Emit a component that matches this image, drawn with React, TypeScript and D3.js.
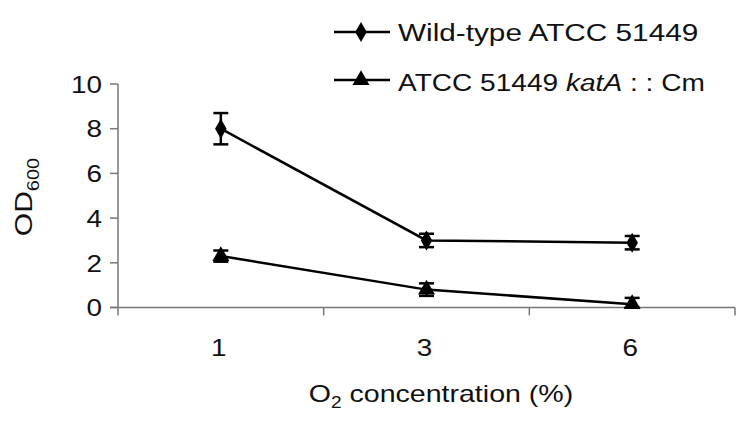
import React from "react";
import * as d3 from "d3";

const categories = ["1", "3", "6"];
const wildType = [8.0, 3.0, 2.9];
const wildTypeErr = [0.7, 0.3, 0.3];
const mutant = [2.3, 0.8, 0.15];
const mutantErr = [0.25, 0.28, 0.28];
const yTicks = [0, 2, 4, 6, 8, 10];

const W = 750;
const H = 425;
const FONT = "'Liberation Sans', Arial, Helvetica, sans-serif";

function T(props: {
  x: number;
  y: number;
  sx: number;
  size: number;
  anchor?: string;
  rotate?: number;
  children: React.ReactNode;
}) {
  const { x, y, sx, size, anchor = "start", rotate = 0, children } = props;
  return (
    <g transform={`translate(${x},${y}) rotate(${rotate}) scale(${sx},1)`}>
      <text x={0} y={0} textAnchor={anchor} fontSize={size} fill="#111">
        {children}
      </text>
    </g>
  );
}

export default function App() {
  const x = d3.scaleBand<string>().domain(categories).range([118, 735]).padding(0);
  const y = d3.scaleLinear().domain([0, 10]).range([307.5, 84]);
  const cx = (c: string) => (x(c) as number) + x.bandwidth() / 2;
  const line = d3
    .line<number>()
    .x((_, i) => cx(categories[i]))
    .y((d) => y(d));
  const axisColor = "#777";
  const boundaries = [...categories.map((c) => x(c) as number), 735];
  const diamond = d3.symbol(d3.symbolDiamond, 115)();
  const triangle = d3.symbol(d3.symbolTriangle, 125)();

  const errBars = (vals: number[], errs: number[]) =>
    vals.map((v, i) => {
      const px = cx(categories[i]);
      const top = y(v + errs[i]);
      const bot = y(Math.max(0, v - errs[i]));
      return (
        <g key={i} stroke="#000" strokeWidth={2.5}>
          <line x1={px} x2={px} y1={top} y2={bot} />
          <line x1={px - 7.5} x2={px + 7.5} y1={top} y2={top} />
          <line x1={px - 7.5} x2={px + 7.5} y1={bot} y2={bot} />
        </g>
      );
    });

  return (
    <svg
      width={W}
      height={H}
      style={{ position: "absolute", left: 0, top: 0, background: "#fff" }}
      fontFamily={FONT}
    >
      <rect width={W} height={H} fill="#fff" />
      {/* y axis */}
      <line x1={118} x2={118} y1={y(10)} y2={y(0)} stroke={axisColor} strokeWidth={1.5} />
      {yTicks.map((t) => (
        <g key={t}>
          <line x1={110} x2={118} y1={y(t)} y2={y(t)} stroke={axisColor} strokeWidth={1.5} />
          <T x={102} y={y(t) + 8.7} sx={1.16} size={24} anchor="end">
            {t}
          </T>
        </g>
      ))}
      {/* x axis */}
      <line x1={110} x2={735} y1={y(0)} y2={y(0)} stroke={axisColor} strokeWidth={1.5} />
      {boundaries.map((b, i) => (
        <line key={i} x1={b} x2={b} y1={y(0)} y2={y(0) + 8} stroke={axisColor} strokeWidth={1.5} />
      ))}
      {categories.map((c) => (
        <T key={c} x={cx(c) - 2} y={356} sx={1.16} size={24} anchor="middle">
          {c}
        </T>
      ))}
      <T x={441} y={402} sx={1.19} size={24} anchor="middle">
        O<tspan fontSize={16} dy={6}>2</tspan>
        <tspan dy={-6}> concentration (%)</tspan>
      </T>
      <T x={32} y={197} sx={1.25} size={24} anchor="middle" rotate={-90}>
        OD<tspan fontSize={16} dy={7}>600</tspan>
      </T>
      {/* series */}
      <path d={line(wildType) || ""} fill="none" stroke="#000" strokeWidth={2.5} />
      <path d={line(mutant) || ""} fill="none" stroke="#000" strokeWidth={2.5} />
      {errBars(wildType, wildTypeErr)}
      {errBars(mutant, mutantErr)}
      {wildType.map((v, i) => (
        <path key={i} d={diamond || ""} transform={`translate(${cx(categories[i])},${y(v)})`} fill="#000" />
      ))}
      {mutant.map((v, i) => (
        <path key={i} d={triangle || ""} transform={`translate(${cx(categories[i])},${y(v)})`} fill="#000" />
      ))}
      {/* legend */}
      <g>
        <line x1={334} x2={390} y1={32} y2={32} stroke="#000" strokeWidth={2.5} />
        <path d={diamond || ""} transform="translate(361,32)" fill="#000" />
        <T x={398} y={41} sx={1.24} size={24}>
          Wild-type ATCC 51449
        </T>
        <line x1={334} x2={390} y1={80} y2={80} stroke="#000" strokeWidth={2.5} />
        <path d={triangle || ""} transform="translate(361,80)" fill="#000" />
        <T x={398} y={91} sx={1.17} size={24}>
          ATCC 51449 <tspan fontStyle="italic">katA</tspan>
          <tspan> : : Cm</tspan>
        </T>
      </g>
    </svg>
  );
}
